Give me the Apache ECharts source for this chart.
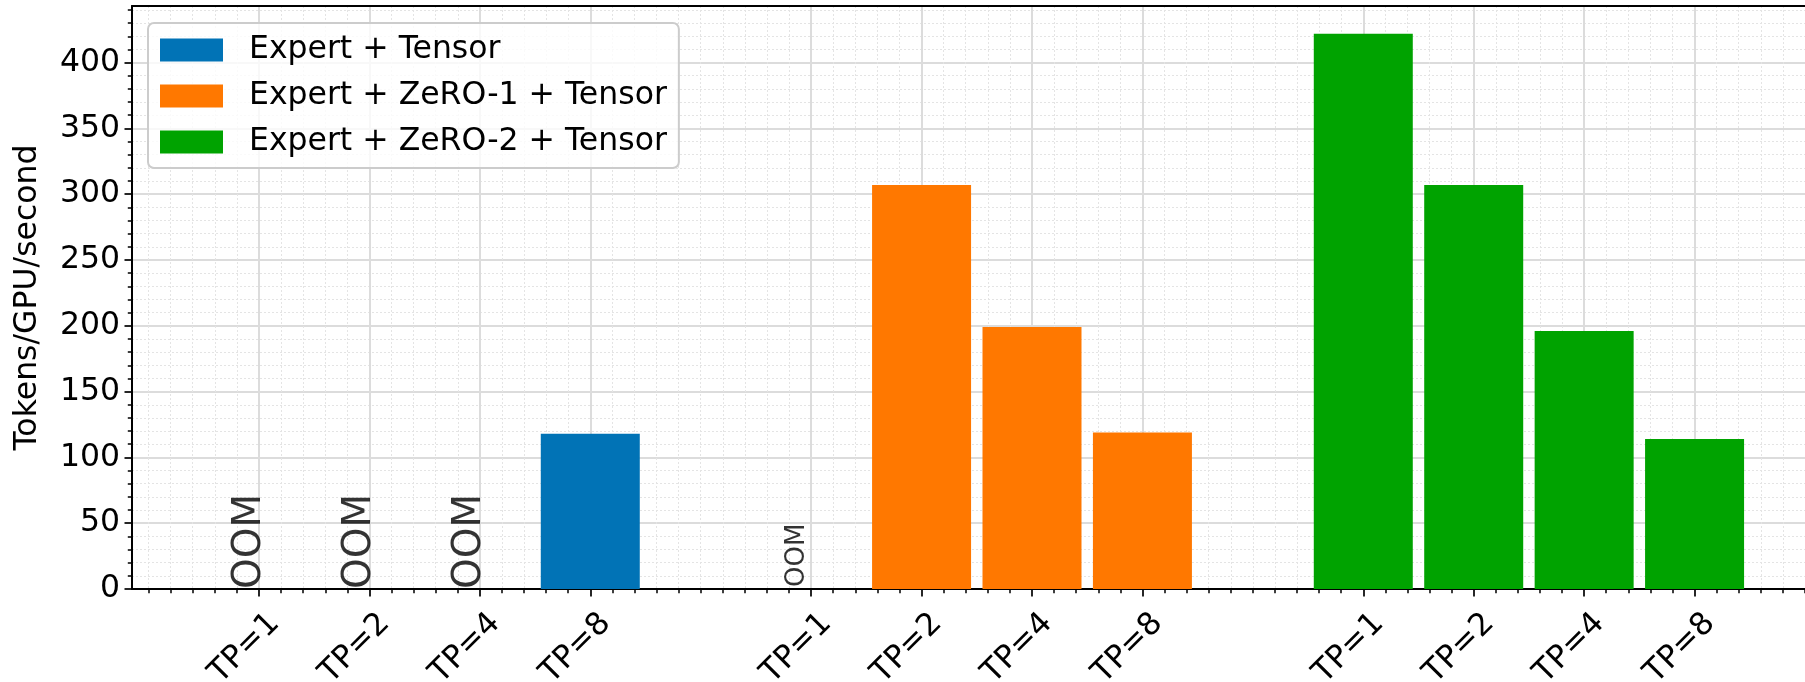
<!DOCTYPE html>
<html>
<head>
<meta charset="UTF-8">
<title>Tokens/GPU/second</title>
<script type="text/javascript" src="https://cdn.jsdelivr.net/npm/echarts@6/dist/echarts.min.js"></script>
<style>
	html, body { margin: 0; padding: 0; background: #fff; }
	#main { width: 1805px; height: 682px; }
</style>
</head>
<body>
	<div id="main"></div>

	<script type="text/javascript">
		// chart data
		var tpLabels = ['TP=1', 'TP=2', 'TP=4', 'TP=8'];
		var groupStart = [0, 5, 10];
		var seriesNames = ['Expert + Tensor', 'Expert + ZeRO-1 + Tensor', 'Expert + ZeRO-2 + Tensor'];
		var tensorVals = [null, null, null, 118];   // null = OOM
		var zero1Vals = [null, 307, 199, 119];
		var zero2Vals = [422, 307, 196, 114];
		var yTicks = [0, 50, 100, 150, 200, 250, 300, 350, 400];
		var yMax = 443;
		var colors = ['#0173b6', '#ff7800', '#00a300'];
		var font = 'DejaVu Sans';
		var fs = 31.5;

		var groups = [tensorVals, zero1Vals, zero2Vals];

		// tick positions on the x axis
		var tickPos = [];
		var tickText = {};
		groupStart.forEach(function (g) {
			tpLabels.forEach(function (t, i) {
				tickPos.push(g + i);
				tickText[g + i] = t;
			});
		});
		var minorX = [];
		for (var k = -5; k <= 70; k++) {
			var v = Math.round(k * 2) / 10;
			if (tickPos.indexOf(v) < 0) minorX.push(v);
		}
		var minorY = [];
		for (var m = 10; m < yMax; m += 10) {
			if (m % 50 !== 0) minorY.push(m);
		}

		function barData(vals, g) {
			var out = [];
			vals.forEach(function (v, i) { if (v != null) out.push([g + i, v]); });
			return out;
		}
		function oomData(vals, g) {
			var out = [];
			vals.forEach(function (v, i) { if (v == null) out.push([g + i, 0]); });
			return out;
		}

		var xMin = -1.15, xMax = 14;
		var blackLine = { color: '#000', width: 2 };

		var series = [];
		groups.forEach(function (vals, s) {
			series.push({
				name: seriesNames[s],
				type: 'bar',
				xAxisIndex: 0, yAxisIndex: 0,
				barWidth: 99,
				barGap: '-100%',
				itemStyle: { color: colors[s] },
				data: barData(vals, groupStart[s])
			});
		});
		// OOM markers, big ones for the first group, small for the second
		var oomFont = [39, 26];
		var oomPosAt = [[10, 0], [-1, -2]];
		[0, 1].forEach(function (s) {
			series.push({
				type: 'scatter',
				silent: true,
				symbolSize: 0,
				z: 5,
				data: oomData(groups[s], groupStart[s]),
				label: {
					show: true,
					formatter: 'OOM',
					position: oomPosAt[s],
					rotate: 90,
					align: 'left',
					verticalAlign: 'bottom',
					fontSize: oomFont[s],
					fontFamily: font,
					color: '#000'
				}
			});
		});

		var myChart = echarts.init(document.getElementById('main'));
		var option = {
			animation: false,
			backgroundColor: '#fff',
			grid: { left: 132, right: 0, top: 6, bottom: 93, outerBoundsMode: 'none' },
			legend: {
				data: seriesNames,
				orient: 'vertical',
				left: 148, top: 23,
				icon: 'rect',
				itemWidth: 63, itemHeight: 23, itemGap: 14,
				padding: [11, 12, 10, 12],
				backgroundColor: 'rgba(255,255,255,0.8)',
				borderColor: '#cccccc', borderWidth: 2, borderRadius: 6,
				textStyle: { fontSize: fs, fontFamily: font, color: '#000', padding: [0, 0, 0, 21] }
			},
			xAxis: [
				{
					type: 'value', min: xMin, max: xMax, position: 'bottom',
					axisLine: { show: true, onZero: false, lineStyle: blackLine },
					axisTick: { show: true, customValues: tickPos, length: 7.5, lineStyle: { color: '#000', width: 1.7 } },
					axisLabel: {
						customValues: tickPos,
						formatter: function (v) { return tickText[Math.round(v)] || ''; },
						rotate: 45, margin: 14,
						align: 'right', verticalAlign: 'top',
						padding: [6, 0, 0, 0],
						fontSize: fs, fontFamily: font, color: '#000'
					},
					splitLine: { show: true, lineStyle: { color: '#dcdcdc', width: 2 } }
				},
				{
					type: 'value', min: xMin, max: xMax, position: 'bottom',
					axisLine: { show: false, onZero: false },
					axisTick: { show: true, customValues: minorX, length: 4.2, lineStyle: { color: '#000', width: 1.5 } },
					axisLabel: { show: false },
					splitLine: { show: true, lineStyle: { color: '#e4e4e4', width: 1, type: [2, 2] } }
				},
				{
					type: 'value', min: xMin, max: xMax, position: 'top',
					axisLine: { show: true, onZero: false, lineStyle: blackLine },
					axisTick: { show: false }, axisLabel: { show: false }, splitLine: { show: false }
				}
			],
			yAxis: [
				{
					type: 'value', min: 0, max: yMax, position: 'left',
					name: 'Tokens/GPU/second', nameLocation: 'middle', nameGap: 88,
					nameTextStyle: { fontSize: fs, fontFamily: font, color: '#000' },
					axisLine: { show: true, onZero: false, lineStyle: blackLine },
					axisTick: { show: true, customValues: yTicks, length: 7.5, lineStyle: { color: '#000', width: 1.7 } },
					axisLabel: { customValues: yTicks, margin: 12, fontSize: fs, fontFamily: font, color: '#000' },
					splitLine: { show: true, lineStyle: { color: '#dcdcdc', width: 2 } }
				},
				{
					type: 'value', min: 0, max: yMax, position: 'left',
					axisLine: { show: false, onZero: false },
					axisTick: { show: true, customValues: minorY, length: 4.2, lineStyle: { color: '#000', width: 1.5 } },
					axisLabel: { show: false },
					splitLine: { show: true, lineStyle: { color: '#e4e4e4', width: 1, type: [2, 2] } }
				}
			],
			series: series
		};
		myChart.setOption(option);
		window.onresize = myChart.resize;
	</script>
</body>
</html>
